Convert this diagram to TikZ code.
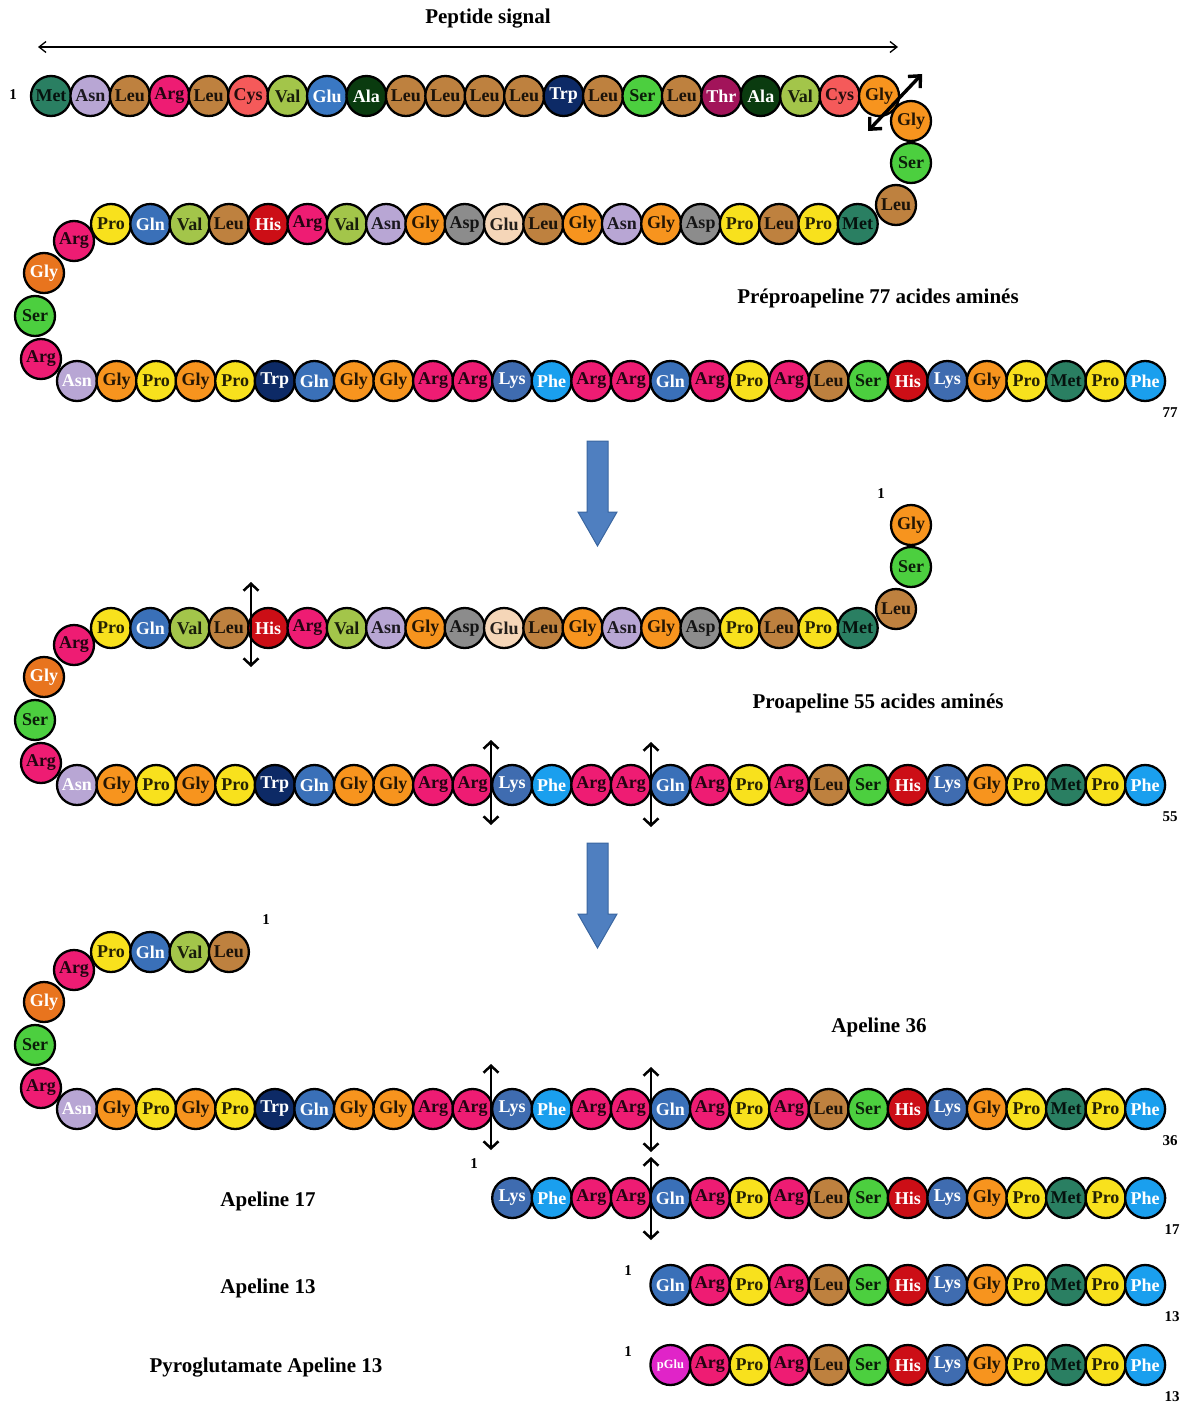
\documentclass[tikz,border=0pt]{standalone}
\usepackage{fontspec}
\setmainfont{Liberation Serif}
\usetikzlibrary{arrows.meta}
\definecolor{cMet}{HTML}{2A7F62}
\definecolor{cAsn}{HTML}{B8A6D4}
\definecolor{cLeu}{HTML}{BE813F}
\definecolor{cArg}{HTML}{EE1C73}
\definecolor{cCys}{HTML}{F55A5A}
\definecolor{cVal}{HTML}{A3C54A}
\definecolor{cGluB}{HTML}{3A78C3}
\definecolor{cGln}{HTML}{3A70B8}
\definecolor{cLys}{HTML}{3F6CB0}
\definecolor{cAla}{HTML}{0A3B0F}
\definecolor{cTrp}{HTML}{0D2A66}
\definecolor{cSer}{HTML}{4CCF3F}
\definecolor{cThr}{HTML}{A2145A}
\definecolor{cGly}{HTML}{F7941E}
\definecolor{cGlyW}{HTML}{E8741E}
\definecolor{cPro}{HTML}{F8E11D}
\definecolor{cHis}{HTML}{CC0E16}
\definecolor{cAsp}{HTML}{8C8C8C}
\definecolor{cGlu}{HTML}{F5D6B8}
\definecolor{cPhe}{HTML}{1A9FEE}
\definecolor{cpGlu}{HTML}{E024C8}
\definecolor{cBlock}{HTML}{4F7FC0}
\definecolor{cBlockEdge}{HTML}{3A66A0}
\tikzset{
  x=1pt, y=-1pt,
  res/.style={circle, draw=black, line width=2.3pt, minimum size=40pt, inner sep=0pt,
    font=\fontsize{18}{18}\selectfont\bfseries, text=black, text opacity=0.85},
  wtxt/.style={text=white, text opacity=1},
  rMet/.style={fill=cMet}, rAsn/.style={fill=cAsn}, rAsnW/.style={fill=cAsn, wtxt},
  rLeu/.style={fill=cLeu}, rArg/.style={fill=cArg}, rCys/.style={fill=cCys},
  rVal/.style={fill=cVal}, rGluB/.style={fill=cGluB, wtxt}, rGln/.style={fill=cGln, wtxt},
  rLys/.style={fill=cLys, wtxt}, rAla/.style={fill=cAla, wtxt}, rTrp/.style={fill=cTrp, wtxt},
  rSer/.style={fill=cSer}, rThr/.style={fill=cThr, wtxt}, rGly/.style={fill=cGly},
  rGlyW/.style={fill=cGlyW, wtxt}, rPro/.style={fill=cPro}, rHis/.style={fill=cHis, wtxt},
  rAsp/.style={fill=cAsp}, rGlu/.style={fill=cGlu}, rPhe/.style={fill=cPhe, wtxt},
  rpGlu/.style={fill=cpGlu, wtxt, font=\fontsize{12.5}{13}\selectfont\bfseries},
  lab/.style={font=\fontsize{21}{24}\selectfont\bfseries, inner sep=0pt},
  num/.style={font=\fontsize{15}{16}\selectfont\bfseries, inner sep=0pt},
  cut/.style={line width=2.5pt, {Straight Barb[length=7pt,width=15pt]}-{Straight Barb[length=7pt,width=15pt]}},
  block/.style={fill=cBlock, draw=cBlockEdge, line width=1pt},
}
\newcommand\resrow[5]{%
  \foreach \s/\t [count=\i] in {#5} \node[res, r\s] (#1\i) at ({#2+(\i-1)*#4},#3) {\t};}
\newcommand\bendleft[2]{%
  \node[res,rArg]  (#1c1) at (74,{241+#2}) {Arg};
  \node[res,rGlyW] (#1c2) at (44,{273+#2}) {Gly};
  \node[res,rSer]  (#1c3) at (35,{316+#2}) {Ser};
  \node[res,rArg]  (#1c4) at (41,{359+#2}) {Arg};}
\newcommand\longrow[2]{%
  \resrow{#1d}{77}{381+#2}{39.56}{AsnW/Asn,Gly,Pro,Gly,Pro,Trp,Gln,Gly,Gly,Arg,Arg,Lys,Phe,Arg,Arg,Gln,Arg,Pro,Arg,Leu,Ser,His,Lys,Gly,Pro,Met,Pro,Phe}}
\newcommand\midrow[2]{%
  \resrow{#1b}{111}{224+#2}{39.3}{Pro,Gln,Val,Leu,His,Arg,Val,Asn,Gly,Asp,Glu,Leu,Gly,Asn,Gly,Asp,Pro,Leu,Pro,Met}}
\newcommand\bendright[2]{%
  \node[res,rGly] (#1a23) at (911,{121+#2}) {Gly};
  \node[res,rSer] (#1a24) at (911,{163+#2}) {Ser};
  \node[res,rLeu] (#1a25) at (896,{205+#2}) {Leu};}
\begin{document}
\begin{tikzpicture}
\useasboundingbox (0,0) rectangle (1187,1405);
% ---------- Preproapeline ----------
\node[lab] (tSignal) at (488,19) {Peptide signal};
\coordinate (sigL) at (38,47);
\coordinate (sigR) at (898,47);
\draw[line width=1.3pt, {Straight Barb[length=7pt,width=11pt]}-{Straight Barb[length=7pt,width=11pt]}] (sigL) -- (sigR);
\node[num] (n1a) at (13,95) {1};
\resrow{Pa}{51}{96}{39.43}{Met,Asn,Leu,Arg,Leu,Cys,Val,GluB/Glu,Ala,Leu,Leu,Leu,Leu,Trp,Leu,Ser,Leu,Thr,Ala,Val,Cys,Gly}
\bendright{P}{0}
\midrow{P}{0}
\bendleft{P}{0}
\longrow{P}{0}
\coordinate (diagA) at (868,131);
\coordinate (diagB) at (922,74);
\draw[line width=3.4pt, {Straight Barb[length=9pt,width=17pt]}-{Straight Barb[length=9pt,width=17pt]}] (diagA) -- (diagB);
\node[lab] (tPre) at (878,298) {Préproapeline 77 acides aminés};
\node[num] (n77) at (1170,413) {77};
\draw[block] (587,441) -- (608,441) -- (608,512) -- (617,512) -- (597.5,546) -- (578,512) -- (587,512) -- cycle;
% ---------- Proapeline ----------
\node[num] (n1b) at (881,494) {1};
\bendright{Q}{404}
\midrow{Q}{404}
\bendleft{Q}{404}
\longrow{Q}{404}
\node[lab] (tPro) at (878,703) {Proapeline 55 acides aminés};
\node[num] (n55) at (1170,817) {55};
\coordinate (k1t) at (251,582); \coordinate (k1b) at (251,667);
\coordinate (k2t) at (491,740); \coordinate (k2b) at (491,825);
\coordinate (k3t) at (651,742); \coordinate (k3b) at (651,827);
\draw[cut] (k1t) -- (k1b);
\draw[cut] (k2t) -- (k2b);
\draw[cut] (k3t) -- (k3b);
\draw[block] (587,843) -- (608,843) -- (608,914) -- (617,914) -- (597.5,948) -- (578,914) -- (587,914) -- cycle;
% ---------- Apeline 36 ----------
\node[num] (n1c) at (266,920) {1};
\resrow{Rb}{111}{952}{39.3}{Pro,Gln,Val,Leu}
\bendleft{R}{729}
\longrow{R}{728}
\node[lab] (t36) at (879,1027) {Apeline 36};
\node[num] (n36) at (1170,1141) {36};
\coordinate (k4t) at (491,1064); \coordinate (k4b) at (491,1150);
\coordinate (k5t) at (651,1067); \coordinate (k5b) at (651,1152);
\draw[cut] (k4t) -- (k4b);
\draw[cut] (k5t) -- (k5b);
% ---------- Apeline 17 ----------
\node[lab] (t17) at (268,1201) {Apeline 17};
\node[num] (n1d) at (474,1164) {1};
\resrow{S}{512.2}{1198}{39.56}{Lys,Phe,Arg,Arg,Gln,Arg,Pro,Arg,Leu,Ser,His,Lys,Gly,Pro,Met,Pro,Phe}
\node[num] (n17) at (1172,1230) {17};
\coordinate (k6t) at (651,1157); \coordinate (k6b) at (651,1240);
\draw[cut] (k6t) -- (k6b);
% ---------- Apeline 13 ----------
\node[lab] (t13) at (268,1288) {Apeline 13};
\node[num] (n1e) at (628,1271) {1};
\resrow{T}{670.4}{1285}{39.56}{Gln,Arg,Pro,Arg,Leu,Ser,His,Lys,Gly,Pro,Met,Pro,Phe}
\node[num] (n13a) at (1172,1317) {13};
% ---------- Pyroglutamate Apeline 13 ----------
\node[lab] (tPyr) at (266,1368) {Pyroglutamate Apeline 13};
\node[num] (n1f) at (628,1352) {1};
\resrow{U}{670.4}{1365}{39.56}{pGlu,Arg,Pro,Arg,Leu,Ser,His,Lys,Gly,Pro,Met,Pro,Phe}
\node[num] (n13b) at (1172,1397) {13};
\end{tikzpicture}
\end{document}
